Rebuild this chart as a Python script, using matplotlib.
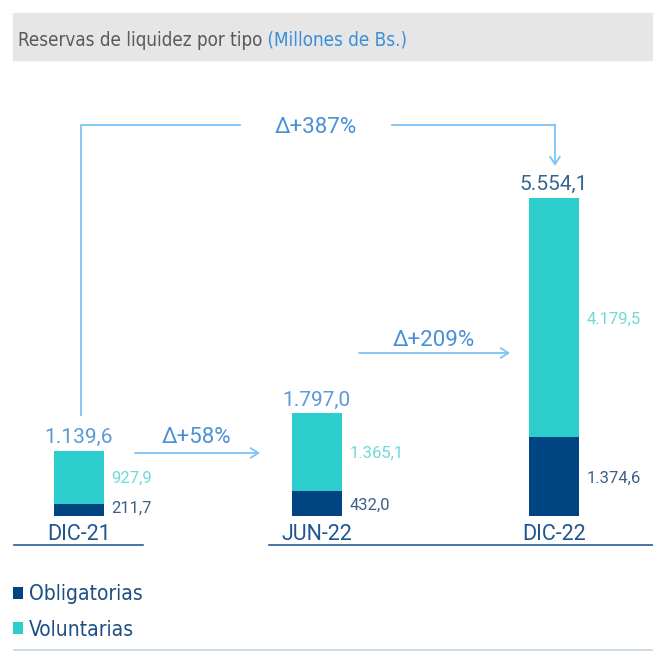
import matplotlib
matplotlib.use("Agg")
import matplotlib.pyplot as plt
from matplotlib.patches import Rectangle
from matplotlib.lines import Line2D

# datos (millones de Bs.)
categorias = ["DIC-21", "JUN-22", "DIC-22"]
obligatorias = [211.7, 432.0, 1374.6]
voluntarias = [927.9, 1365.1, 4179.5]
totales = [1139.6, 1797.0, 5554.1]
variaciones = ["Δ+58%", "Δ+209%", "Δ+387%"]

NAVY = "#004481"
AQUA = "#2dcccd"
ARROW = "#7cc3f6"
DELTA_TXT = "#4a90d8"
NARROW = dict(family="DejaVu Sans", stretch="condensed")
NUMF = ["Roboto", "DejaVu Sans"]

W = H = 653


def px(x, y):
    # pixel (desde arriba-izquierda) -> fraccion de figura
    return x / W, 1 - y / H


def fmt(v):
    s = f"{v:,.1f}"
    return s.replace(",", "X").replace(".", ",").replace("X", ".")


fig = plt.figure(figsize=(6.53, 6.53), dpi=100)

# banda del titulo
fig.patches.append(Rectangle(px(13, 60), (W - 13) / W, 47 / H,
                             transform=fig.transFigure, color="#e6e6e6", zorder=0))

# ejes de las barras: y=0 en px 516, centros en 79 / 316.5 / 554
ax = fig.add_axes([0, 1 - 516 / H, 1, (516 - 70) / H])
step = 237.5
ax.set_xlim(-79 / step, (W - 79) / step)
ax.set_ylim(0, 446 / 0.05726)
ax.axis("off")

x = list(range(len(categorias)))
bw = 50 / step
ax.bar(x, obligatorias, width=bw, color=NAVY, label="Obligatorias")
ax.bar(x, voluntarias, width=bw, bottom=obligatorias, color=AQUA, label="Voluntarias")

tot_colors = ["#5b9ad6", "#5b9ad6", "#3a6592"]
for i in x:
    ax.annotate(fmt(totales[i]), (i, totales[i]), xytext=(0, 5.5), textcoords="offset points",
                ha="center", va="baseline", fontsize=15, color=tot_colors[i], family=NUMF)
    ax.annotate(fmt(voluntarias[i]), (i + bw / 2, obligatorias[i] + voluntarias[i] / 2),
                xytext=(5.5, 0), textcoords="offset points", ha="left", va="center_baseline",
                fontsize=12, color="#6cdada", family=NUMF)
    ax.annotate(fmt(obligatorias[i]), (i + bw / 2, obligatorias[i] / 2),
                xytext=(5.5, 2 if i == 0 else 0), textcoords="offset points", ha="left",
                va="center_baseline", fontsize=12, color="#3f5f88", family=NUMF)
    ax.annotate(categorias[i], (i, 0), xytext=(0, -11.5), textcoords="offset points",
                ha="center", va="center_baseline", fontsize=15.5, color="#1e5591",
                family=NUMF, annotation_clip=False)

# subrayados de categorias
for x0, x1 in [(14, 143), (269, 653)]:
    fig.add_artist(Line2D([x0 / W, x1 / W], [1 - 545 / H] * 2, color="#2a5d94", lw=1.2))

# flechas de variacion
arrow_kw = dict(arrowstyle="->,head_length=0.55,head_width=0.35", color=ARROW, lw=1.3,
                shrinkA=0, shrinkB=0)
for (x0, x1, y), txt, tx, ty in [((135, 260, 453), variaciones[0], 197, 443),
                                 ((359, 510, 353), variaciones[1], 434, 346)]:
    ax.annotate("", xy=px(x1, y), xytext=px(x0, y), xycoords="figure fraction",
                textcoords="figure fraction", arrowprops=arrow_kw, annotation_clip=False)
    fig.text(*px(tx, ty), txt, ha="center", va="baseline", fontsize=16, color=DELTA_TXT,
             family=NUMF)

# corchete +387%
fig.add_artist(Line2D([81 / W, 81 / W, 240 / W], [1 - 415 / H, 1 - 125 / H, 1 - 125 / H],
                      color=ARROW, lw=1.3))
fig.add_artist(Line2D([392 / W, 555 / W], [1 - 125 / H] * 2, color=ARROW, lw=1.3))
ax.annotate("", xy=px(555, 166), xytext=px(555, 124.4), xycoords="figure fraction",
            textcoords="figure fraction", arrowprops=arrow_kw, annotation_clip=False)
fig.text(*px(316, 133), variaciones[2], ha="center", va="baseline", fontsize=16,
         color=DELTA_TXT, family=NUMF)

# titulo
t1 = fig.text(*px(18, 46), "Reservas de liquidez por tipo", ha="left", va="baseline",
              fontsize=13.5, color="#5a5a5a", **NARROW)
fig.canvas.draw()
bb = t1.get_window_extent()
fig.text(bb.x1 / W, 1 - 46 / H, " (Millones de Bs.)", ha="left", va="baseline",
         fontsize=13.5, color="#3a8fd8", **NARROW)

# leyenda
fig.legend(loc="upper left", bbox_to_anchor=px(13, 584), frameon=False, borderpad=0,
           borderaxespad=0, handlelength=0.5, handleheight=0.5, handletextpad=0.25,
           labelspacing=0.75, prop={"size": 15, **NARROW}, labelcolor="#1f4f82")

fig.add_artist(Line2D([14 / W, 1], [1 - 650 / H] * 2, color="#c3d4e4", lw=1.2))

fig.savefig("out.png", dpi=100)
